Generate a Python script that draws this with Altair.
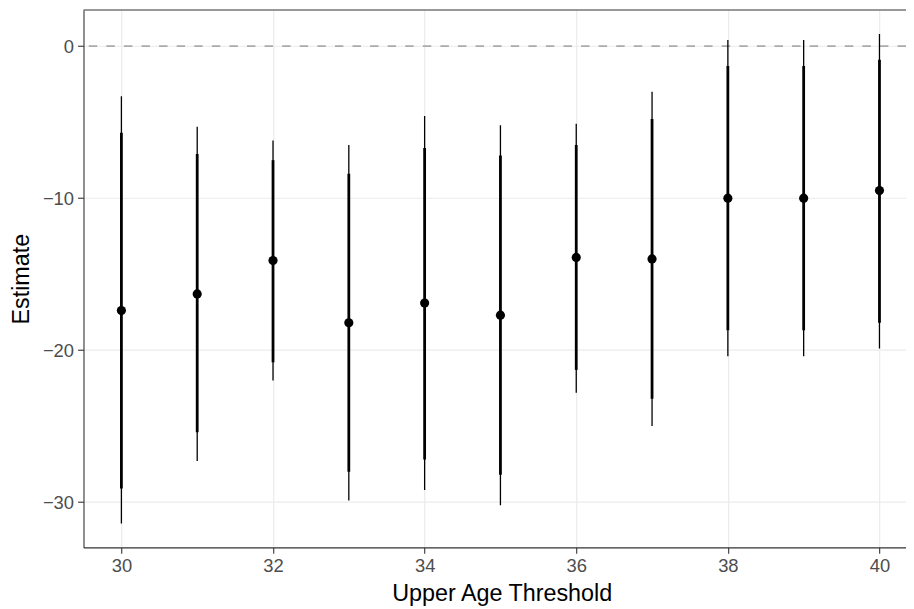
import altair as alt
import pandas as pd

thresholds = [30, 31, 32, 33, 34, 35, 36, 37, 38, 39, 40]
estimate = [-17.4, -16.3, -14.1, -18.2, -16.9, -17.7, -13.9, -14.0, -10.0, -10.0, -9.5]
lo90 = [-29.1, -25.4, -20.8, -28.0, -27.2, -28.2, -21.3, -23.2, -18.7, -18.7, -18.2]
hi90 = [-5.7, -7.1, -7.5, -8.4, -6.7, -7.2, -6.5, -4.8, -1.3, -1.3, -0.9]
lo95 = [-31.4, -27.3, -22.0, -29.9, -29.2, -30.2, -22.8, -25.0, -20.4, -20.4, -19.9]
hi95 = [-3.3, -5.3, -6.2, -6.5, -4.6, -5.2, -5.1, -3.0, 0.4, 0.4, 0.8]

x_ticks = [30, 32, 34, 36, 38, 40]
y_ticks = [-30, -20, -10, 0]

df = pd.DataFrame({
    "threshold": thresholds, "estimate": estimate,
    "lo90": lo90, "hi90": hi90, "lo95": lo95, "hi95": hi95,
})

W, H = 828, 541
FONT = "Liberation Sans"

xscale = alt.Scale(domain=[29.5, 40.35], nice=False, zero=False)
yscale = alt.Scale(domain=[-32.98, 2.38], nice=False, zero=False)

xaxis = alt.Axis(values=x_ticks, title="Upper Age Threshold", format="d",
                 titlePadding=7, labelPadding=3, titleX=421)
yaxis = alt.Axis(values=y_ticks, title="Estimate", format="d",
                 titlePadding=9, labelPadding=4)

base = alt.Chart(df)

zero = alt.Chart(pd.DataFrame({"y": [0]})).mark_rule(
    color="#ABABAB", strokeWidth=1.6, strokeDash=[8.5, 9.2]
).encode(y=alt.Y("y:Q", scale=yscale, axis=yaxis))

ci95 = base.mark_rule(color="black", strokeWidth=1.3).encode(
    x=alt.X("threshold:Q", scale=xscale, axis=xaxis),
    y=alt.Y("lo95:Q", scale=yscale, axis=yaxis),
    y2="hi95:Q",
)

ci90 = base.mark_rule(color="black", strokeWidth=2.8).encode(
    x=alt.X("threshold:Q", scale=xscale, axis=xaxis),
    y=alt.Y("lo90:Q", scale=yscale, axis=yaxis),
    y2="hi90:Q",
)

pts = base.mark_point(filled=True, color="black", size=85, opacity=1).encode(
    x=alt.X("threshold:Q", scale=xscale, axis=xaxis),
    y=alt.Y("estimate:Q", scale=yscale, axis=yaxis),
)

top_border = alt.Chart(pd.DataFrame({"a": [0]})).mark_rule(
    color="#333333", strokeWidth=1.1
).encode(x=alt.value(0), x2=alt.value(W + 10), y=alt.value(0))

chart = alt.layer(zero, ci95, ci90, pts, top_border).properties(
    width=W, height=H,
    autosize=alt.AutoSizeParams(type="none"),
    padding={"left": 76, "top": 0, "right": 0, "bottom": 59},
).configure_view(stroke=None).configure_axis(
    labelFont=FONT, titleFont=FONT,
    labelFontSize=18.5, titleFontSize=23.5,
    labelColor="#4D4D4D", titleColor="black", titleFontWeight="normal",
    tickColor="#333333", tickSize=6, tickWidth=1.1,
    domainColor="#333333", domainWidth=1.1,
    gridColor="#EBEBEB", gridWidth=1.2,
)

chart.save("out.html", embed_options={"renderer": "svg", "actions": False})
